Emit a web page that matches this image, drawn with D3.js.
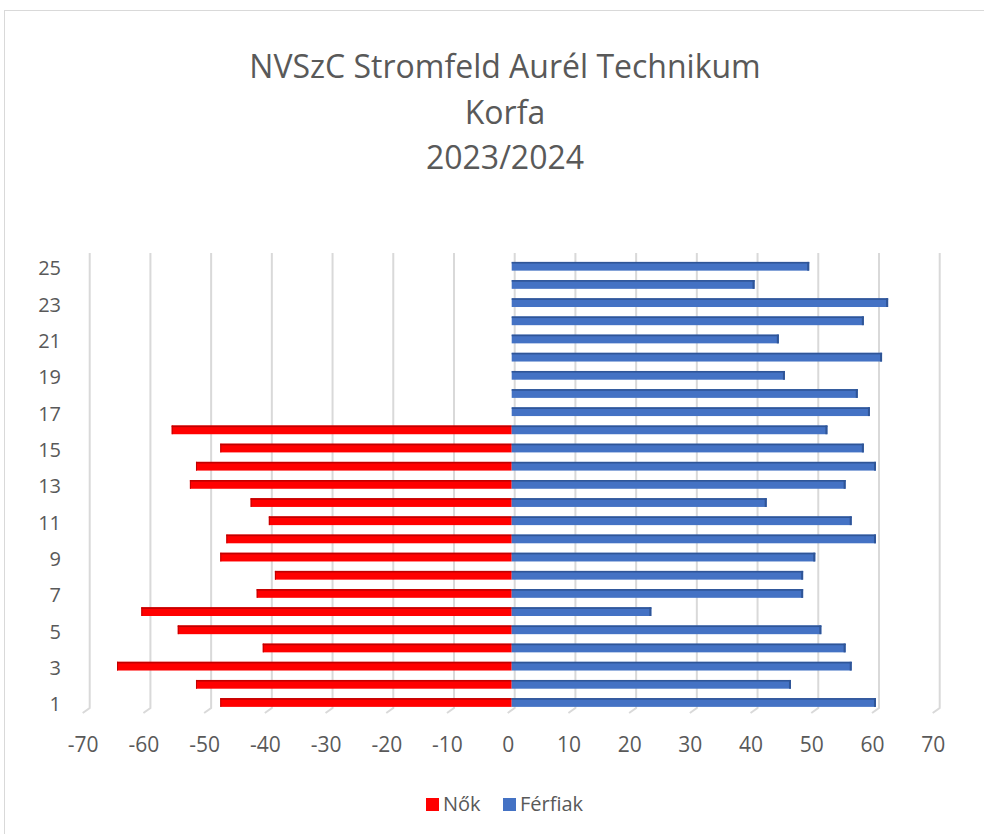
<!DOCTYPE html>
<html>
<head>
<meta charset="utf-8">
<script src="https://cdn.jsdelivr.net/npm/d3@7"></script>
<style>
  body { margin: 0; background: #fff; }
  text { font-family: "Open Sans", sans-serif; fill: #595959; }
</style>
</head>
<body>
<div id="korfa"></div>
<script>
// korfa adatok (1..25)
var categories = [1, 2, 3, 4, 5, 6, 7, 8, 9, 10, 11, 12, 13, 14, 15, 16, 17, 18, 19, 20, 21, 22, 23, 24, 25];
var nok = [48, 52, 65, 41, 55, 61, 42, 39, 48, 47, 40, 43, 53, 52, 48, 56, null, null, null, null, null, null, null, null, null];
var ferfiak = [60, 46, 56, 55, 51, 23, 48, 48, 50, 60, 56, 42, 55, 60, 58, 52, 59, 57, 45, 61, 44, 58, 62, 40, 49];
var xTicks = [-70, -60, -50, -40, -30, -20, -10, 0, 10, 20, 30, 40, 50, 60, 70];
var yTicks = [1, 3, 5, 7, 9, 11, 13, 15, 17, 19, 21, 23, 25];
var titleLines = ["NVSzC Stromfeld Aurél Technikum", "Korfa", "2023/2024"];
var seriesNames = ["Nők", "Férfiak"];
var seriesColors = ["#ff0000", "#4472c4"];
var seriesDark = ["#c00000", "#2f5597"];

var W = 984, H = 834;
var svg = d3.select("#korfa")
    .append("svg")
    .attr("width", W)
    .attr("height", H);

// keret
svg.append("rect")
    .attr("x", 4.5).attr("y", 10.5)
    .attr("width", 1000).attr("height", 900)
    .attr("fill", "#fff")
    .attr("stroke", "#d9d9d9");

// cim
svg.append("g").selectAll("text")
    .data(titleLines)
    .enter()
    .append("text")
    .attr("x", 505)
    .attr("y", function(d, i) { return 78 + i * 45.6; })
    .attr("text-anchor", "middle")
    .style("font-size", "32px")
    .text(function(d) { return d; });

var xaxis = d3.scaleLinear()
    .domain([-70, 70])
    .range([86.7, 936.7]);

var yaxis = d3.scaleBand()
    .domain(categories.slice().reverse())
    .range([257.2, 711.6])
    .paddingInner(0.52)
    .paddingOuter(0.26);

// racsvonalak (hatso fal + padlo)
var gridTop = 253, gridBottom = 708;
svg.append("g").selectAll("path")
    .data(xTicks)
    .enter()
    .append("path")
    .attr("d", function(d) {
      var x = xaxis(d);
      return "M" + (x + 3) + "," + gridTop + "V" + gridBottom + "L" + (x - 4) + "," + (gridBottom + 5);
    })
    .attr("fill", "none")
    .attr("stroke", "#d9d9d9")
    .attr("stroke-width", 2);

// x tengely
var gx = svg.append("g")
    .attr("transform", "translate(-4," + (gridBottom + 5) + ")")
    .call(d3.axisBottom(xaxis).tickValues(xTicks).tickSize(0).tickPadding(24)
      .tickFormat(function(d) { return String(d); }));
gx.select(".domain").remove();
gx.selectAll("text")
    .style("font-size", "21px")
    .style("font-family", "'Open Sans', sans-serif")
    .attr("fill", "#595959");

// y tengely
var gy = svg.append("g")
    .attr("transform", "translate(61,2.5)")
    .call(d3.axisLeft(yaxis).tickValues(yTicks).tickSize(0).tickPadding(0));
gy.select(".domain").remove();
gy.selectAll("text")
    .style("font-size", "20px")
    .style("font-family", "'Open Sans', sans-serif")
    .attr("fill", "#595959");

// oszlopok
var rows = categories.map(function(c, i) {
  return {cat: c, nok: nok[i], ferfiak: ferfiak[i]};
});
var bw = yaxis.bandwidth();

function drawSeries(key, sign, si) {
  var data = rows.filter(function(d) { return d[key] != null; });
  var g = svg.append("g");
  g.selectAll(".bar")
    .data(data)
    .enter()
    .append("rect")
    .attr("x", function(d) { return Math.min(xaxis(0), xaxis(sign * d[key])); })
    .attr("y", function(d) { return yaxis(d.cat); })
    .attr("width", function(d) { return Math.abs(xaxis(sign * d[key]) - xaxis(0)); })
    .attr("height", bw)
    .attr("fill", seriesColors[si]);
  // felso (sotetebb) lap
  g.selectAll(".top")
    .data(data)
    .enter()
    .append("rect")
    .attr("x", function(d) { return Math.min(xaxis(0), xaxis(sign * d[key])); })
    .attr("y", function(d) { return yaxis(d.cat); })
    .attr("width", function(d) { return Math.abs(xaxis(sign * d[key]) - xaxis(0)); })
    .attr("height", 1.6)
    .attr("fill", seriesDark[si]);
  // veg lap
  g.selectAll(".end")
    .data(data)
    .enter()
    .append("rect")
    .attr("x", function(d) { return sign > 0 ? xaxis(d[key]) - 2 : xaxis(-d[key]); })
    .attr("y", function(d) { return yaxis(d.cat); })
    .attr("width", sign > 0 ? 2 : 1)
    .attr("height", bw)
    .attr("fill", seriesDark[si]);
}
drawSeries("nok", -1, 0);
drawSeries("ferfiak", 1, 1);

// jelmagyarazat
var legendX = [426, 503];
var lg = svg.append("g").selectAll("g")
    .data(seriesNames)
    .enter()
    .append("g")
    .attr("transform", function(d, i) { return "translate(" + legendX[i] + ",798)"; });
lg.append("rect")
    .attr("width", 13).attr("height", 13)
    .attr("fill", function(d, i) { return seriesColors[i]; });
lg.append("text")
    .attr("x", 17)
    .attr("y", 13)
    .style("font-size", "20px")
    .text(function(d) { return d; });
</script>
</body>
</html>
